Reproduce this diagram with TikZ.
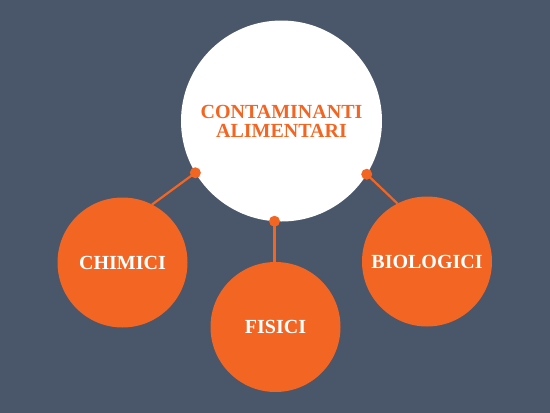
\documentclass[tikz,border=0pt]{standalone}
\usepackage{fontspec}
\setmainfont{Liberation Serif}
\definecolor{slate}{RGB}{74,86,106}
\definecolor{carrot}{RGB}{242,101,34}
\tikzset{
    topic/.style={circle,fill=white,minimum size=201pt,inner sep=0pt,outer sep=0pt,
        align=center,text=carrot,font=\fontsize{20}{19}\selectfont\bfseries},
    branch/.style={circle,fill=carrot,minimum size=130pt,inner sep=0pt,outer sep=0pt,
        text=white,font=\fontsize{20}{19}\selectfont\bfseries},
    link/.style={carrot,line width=2.2pt}
}

\begin{document}
\begin{tikzpicture}[x=1pt,y=-1pt]
    % Background
    \fill[slate] (0,0) rectangle (550,413);
    % Main circle
    \node[topic] (main) at (281.5,121) {CONTAMINANTI\\ALIMENTARI};
    % Branches
    \node[branch] (chim) at (122.5,262.5) {CHIMICI};
    \node[branch] (fis) at (275.5,327) {FISICI};
    \node[branch] (bio) at (427,261.5) {BIOLOGICI};
    % Joints
    \coordinate (jl) at (main.211.3);
    \coordinate (jm) at (main.266.5);
    \coordinate (jr) at (main.328.4);
    % Links
    \draw[link] (jl) -- (chim.63);
    \draw[link] (jm) -- (jm |- fis.north);
    \draw[link] (jr) -- (bio.117);
    \foreach \j in {jl,jm,jr} {
        \fill[carrot] (\j) circle (5.5);
    }
\end{tikzpicture}
\end{document}
